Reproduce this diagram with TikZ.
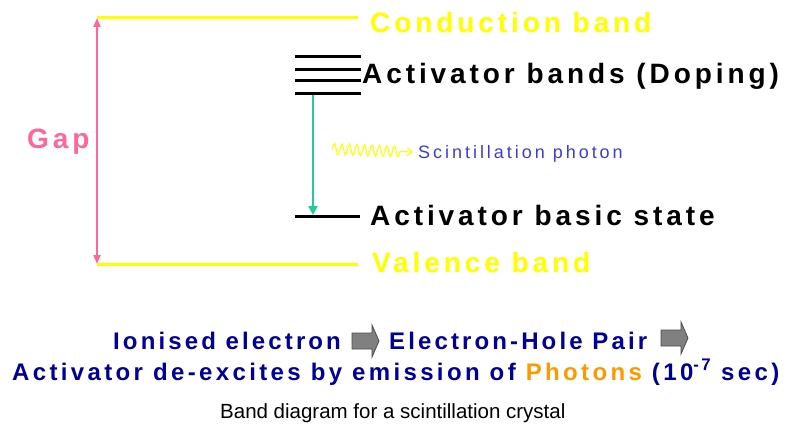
\documentclass[tikz,border=0pt]{standalone}
\usepackage{fontspec}
\setmainfont{Liberation Sans}
\newfontfamily\spaced[LetterSpace=14]{Liberation Sans}
\newfontfamily\spacedb[LetterSpace=13]{Liberation Sans}
\newfontfamily\spacedthin[LetterSpace=16.5]{Liberation Sans}
\usetikzlibrary{decorations.pathmorphing,arrows.meta}
\definecolor{bandyellow}{RGB}{255,255,0}
\definecolor{gappink}{RGB}{255,102,153}
\definecolor{transgreen}{RGB}{32,204,153}
\definecolor{photonblue}{RGB}{60,60,220}
\definecolor{navy}{RGB}{0,0,153}
\definecolor{photonorange}{RGB}{255,153,0}
\definecolor{arrowgray}{RGB}{128,128,128}
\tikzset{
  lbl/.style={inner sep=0pt, anchor=base west},
  bigtxt/.style={lbl, font=\fontsize{28}{30}\selectfont\spaced\bfseries},
  bandline/.style={line width=3pt, bandyellow},
  levelline/.style={line width=3pt, black},
  bottomtxt/.style={lbl, font=\fontsize{24}{26}\selectfont\spacedb\bfseries, text=navy},
  bottomtxtwide/.style={lbl, font=\fontsize{24}{26}\selectfont\spaced\bfseries, text=navy},
  blockarrow/.style={fill=arrowgray, draw=black!70, line width=0.8pt, line join=miter}
}
\begin{document}
\begin{tikzpicture}[x=1pt,y=-1pt]
\useasboundingbox[fill=white] (0,0) rectangle (788,428);
% band lines
\coordinate (cbL) at (97,18);
\coordinate (cbR) at (358,18);
\coordinate (vbL) at (97,264);
\coordinate (vbR) at (358,264);
\draw[bandline] (cbL) -- (cbR);
\draw[bandline] (vbL) -- (vbR);
% gap arrow
\draw[gappink, line width=2pt, {Triangle[length=9pt,width=7pt]}-{Triangle[length=9pt,width=7pt]}] (cbL) -- (vbL);
\node[bigtxt, text=gappink, anchor=base west] (gap) at (27,148) {Gap};
% activator levels
\coordinate (a1L) at (295,57);  \coordinate (a1R) at (361,57);
\coordinate (a2L) at (295,70);  \coordinate (a2R) at (361,70);
\coordinate (a3L) at (295,81);  \coordinate (a3R) at (361,81);
\coordinate (a4L) at (295,94);  \coordinate (a4R) at (361,94);
\draw[levelline] (a1L) -- (a1R);
\draw[levelline] (a2L) -- (a2R);
\draw[levelline] (a3L) -- (a3R);
\draw[levelline] (a4L) -- (a4R);
\coordinate (bsL) at (295,216); \coordinate (bsR) at (360,216);
\draw[levelline] (bsL) -- (bsR);
% transition arrow
\coordinate (trTop) at (313,95);
\coordinate (trBot) at (313,215);
\draw[transgreen, line width=2.6pt, -{Triangle[length=9pt,width=9pt]}] (trTop) -- (trBot);
% labels
\node[bigtxt, text=bandyellow] (cbtxt) at (370,33) {Conduction band};
\node[bigtxt, text=black] (abtxt) at (362,84) {Activator bands (Doping)};
\node[bigtxt, text=black] (bstxt) at (370,225) {Activator basic state};
\node[bigtxt, text=bandyellow] (vbtxt) at (372,272) {Valence band};
% photon
\node[lbl, font=\fontsize{18}{20}\selectfont\spacedthin, text=photonblue] (ph) at (418,158) {Scintillation photon};
\coordinate (wvS) at (332,149);
\coordinate (wvE) at (413,152);
\draw[bandyellow, line width=1.1pt, -{Straight Barb[length=5pt,width=8pt]},
  decorate, decoration={snake, amplitude=5.5pt, segment length=7.5pt, post length=12pt}]
  (wvS) -- (wvE);
% bottom text
\node[bottomtxt] (l1a) at (113,349) {Ionised electron};
\draw[blockarrow] (352,333) -- (372,333) -- (372,325) -- (379,341) -- (372,357) -- (372,349) -- (352,349) -- cycle;
\node[bottomtxt] (l1b) at (389,349) {Electron-Hole Pair};
\draw[blockarrow] (661,330) -- (681,330) -- (681,322) -- (688,338) -- (681,354) -- (681,346) -- (661,346) -- cycle;
\node[bottomtxtwide] (l2) at (12,380) {Activator de-excites by emission of \textcolor{photonorange}{Photons} (10\textsuperscript{-7} sec)};
\node[lbl, font=\fontsize{20.5}{22}\selectfont] (cap) at (220,418) {Band diagram for a scintillation crystal};
\end{tikzpicture}
\end{document}
